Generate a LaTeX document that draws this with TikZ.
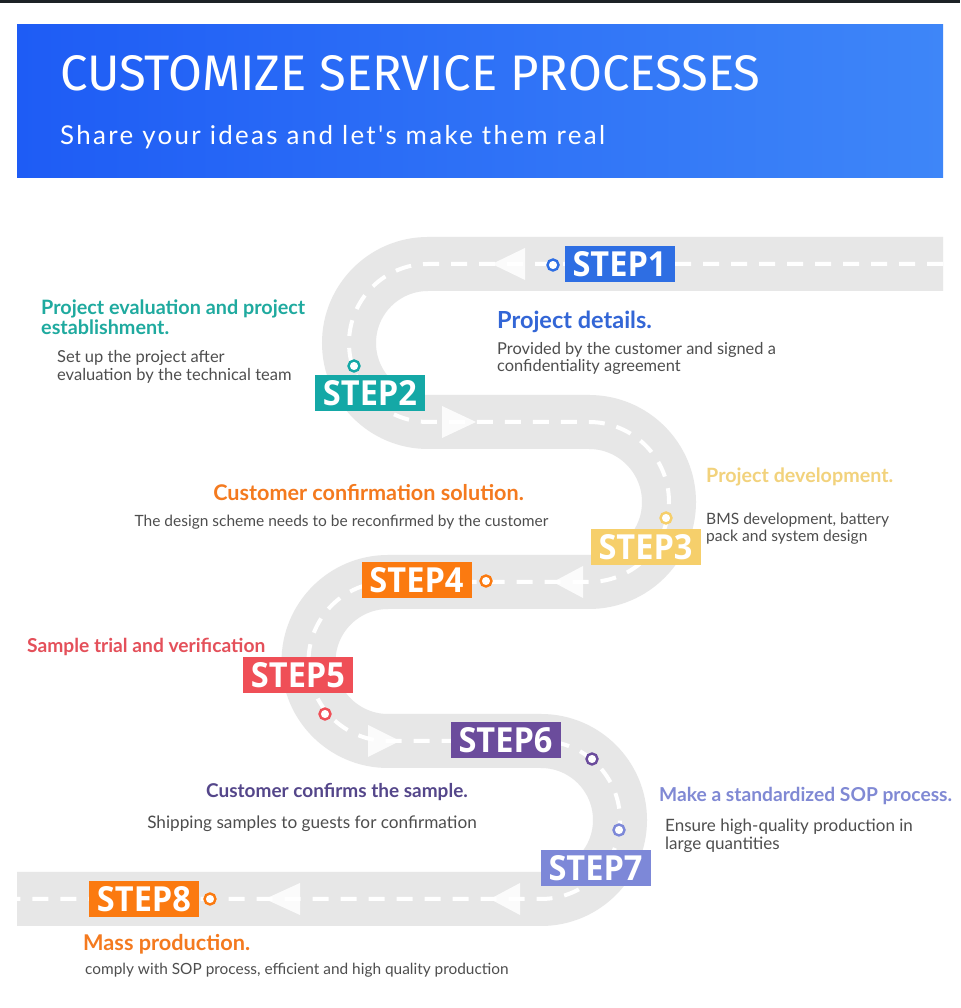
\documentclass[tikz,border=0pt]{standalone}
\usepackage{fontspec}
\setmainfont{Lato}
\newfontfamily\stepfont{Open Sans}
\newfontfamily\titlefont{Fira Sans}
\newfontfamily\subfont{Lato}[LetterSpace=9]
\definecolor{roadgray}{HTML}{E7E7E7}
\definecolor{bodygray}{HTML}{4E4E4E}
\definecolor{hdleft}{HTML}{1E5CF5}
\definecolor{hdright}{HTML}{3E86F8}
\definecolor{topbar}{HTML}{1D2226}
\definecolor{cblue}{HTML}{2E6EE3}
\definecolor{hblue}{HTML}{3366D6}
\definecolor{cteal}{HTML}{14A8A6}
\definecolor{hteal}{HTML}{1FAA9F}
\definecolor{cyellow}{HTML}{F6CF6B}
\definecolor{hyellow}{HTML}{F2D27C}
\definecolor{corange}{HTML}{FB7A10}
\definecolor{horange}{HTML}{F47A1F}
\definecolor{cred}{HTML}{EF4F57}
\definecolor{hred}{HTML}{E4505A}
\definecolor{cpurple}{HTML}{6B4C9C}
\definecolor{hpurple}{HTML}{54468A}
\definecolor{cperi}{HTML}{7D88D8}
\definecolor{hperi}{HTML}{8089D4}
\newcommand\steplabel[1]{\resizebox{94pt}{25pt}{\stepfont\bfseries #1}}
\newcommand\fs[1]{\fontsize{#1}{18}\selectfont}
\tikzset{
  road/.style={line width=54pt, draw=roadgray, line cap=butt},
  lane/.style={line width=4pt, draw=white, dash pattern=on 16pt off 12pt, line cap=butt},
  stepbox/.style={fill=#1, minimum width=110pt, minimum height=36pt, inner sep=0pt, text=white},
  ring/.style={circle, draw=#1, line width=2.4pt, fill=white, minimum size=11pt, inner sep=0pt},
  arrowtri/.style={fill=white, fill opacity=0.85, draw=none},
  head/.style={text=#1, inner sep=0pt, align=left},
  body/.style={text=bodygray, inner sep=0pt, align=left},
}
\begin{document}
\begin{tikzpicture}[x=1pt,y=1pt]
\useasboundingbox (0,0) rectangle (960,1008);
\fill[white] (0,0) rectangle (960,1008);
% top bar
\fill[topbar] (0,1005) rectangle (960,1008);
% header
\shade[left color=hdleft, right color=hdright] (17,830) rectangle (943,983);
\node[anchor=base west, inner sep=0pt, text=white] (title) at (60,917)
  {\resizebox{700pt}{35pt}{\titlefont CUSTOMIZE SERVICE PROCESSES}};
\node[anchor=base west, inner sep=0pt, text=white] (subtitle) at (60,863)
  {\resizebox{545pt}{!}{\subfont Share your ideas and let's make them real}};
% road
\draw[road] (943,744) -- (428,744) arc[start angle=90, end angle=270, radius=79]
  -- (589,586) arc[start angle=90, end angle=-90, radius=80]
  -- (388,426) arc[start angle=90, end angle=270, radius=79.5]
  -- (541,267) arc[start angle=90, end angle=-90, radius=79]
  -- (17,109);
\draw[lane] (943,744) -- (428,744) arc[start angle=90, end angle=270, radius=79]
  -- (589,586) arc[start angle=90, end angle=-90, radius=80]
  -- (388,426) arc[start angle=90, end angle=270, radius=79.5]
  -- (541,267) arc[start angle=90, end angle=-90, radius=79]
  -- (17,109);
% direction arrows
\fill[arrowtri] (492,744) -- (525,760) -- (525,728) -- cycle;
\fill[arrowtri] (476,586) -- (442,602) -- (442,570) -- cycle;
\fill[arrowtri] (553,426) -- (583,442) -- (583,410) -- cycle;
\fill[arrowtri] (400,267) -- (368,283) -- (368,251) -- cycle;
\fill[arrowtri] (490,109) -- (520,125) -- (520,93) -- cycle;
\fill[arrowtri] (265,109) -- (300,125) -- (300,93) -- cycle;
% step boxes
\node[stepbox=cblue]   (s1) at (619.5,743.5) {\steplabel{STEP1}};
\node[stepbox=cteal]   (s2) at (370,615)     {\steplabel{STEP2}};
\node[stepbox=cyellow] (s3) at (645.5,460.5) {\steplabel{STEP3}};
\node[stepbox=corange] (s4) at (416.5,427.5) {\steplabel{STEP4}};
\node[stepbox=cred]    (s5) at (298,333)     {\steplabel{STEP5}};
\node[stepbox=cpurple] (s6) at (505.5,268)   {\steplabel{STEP6}};
\node[stepbox=cperi]   (s7) at (595.5,139.5) {\steplabel{STEP7}};
\node[stepbox=corange] (s8) at (144,109)     {\steplabel{STEP8}};
% rings
\node[ring=cblue]   (d1) at (553,743) {};
\node[ring=cteal]   (d2) at (354,642) {};
\node[ring=cyellow] (d3) at (666,490) {};
\node[ring=corange] (d4) at (486,427) {};
\node[ring=cred]    (d5) at (325,294) {};
\node[ring=cpurple] (d6) at (592,249) {};
\node[ring=cperi]   (d7) at (619,178) {};
\node[ring=corange] (d8) at (210,109) {};
% texts
\node[head=hteal, anchor=west, font=\bfseries\fontsize{19.8}{20}\selectfont] (h2) at (41,690.5) {Project evaluation and project\\establishment.};
\node[body, anchor=west, font=\fontsize{16.5}{18}\selectfont] (b2) at (57,641) {Set up the project after\\evaluation by the technical team};
\node[head=hblue, anchor=west, font=\bfseries\fontsize{23.5}{24}\selectfont] (h1) at (497,686) {Project details.};
\node[body, anchor=west, font=\fontsize{16.4}{17.5}\selectfont] (b1) at (497,649.5) {Provided by the customer and signed a\\confidentiality agreement};
\node[head=hyellow, anchor=west, font=\bfseries\fontsize{19.7}{20}\selectfont] (h3) at (706,531) {Project development.};
\node[body, anchor=west, font=\fontsize{15.6}{17.5}\selectfont] (b3) at (706,479.5) {BMS development, battery\\pack and system design};
\node[head=horange, font=\bfseries\fontsize{21.6}{22}\selectfont] (h4) at (368.5,515) {Customer confirmation solution.};
\node[body, font=\fontsize{15.5}{18}\selectfont] (b4) at (341.5,486) {The design scheme needs to be reconfirmed by the customer};
\node[head=hred, anchor=west, font=\bfseries\fontsize{19.2}{20}\selectfont] (h5) at (27,361) {Sample trial and verification};
\node[head=hpurple, font=\bfseries\fontsize{19}{20}\selectfont] (h6) at (337,216) {Customer confirms the sample.};
\node[body, font=\fontsize{17.2}{18}\selectfont] (b6) at (312,184) {Shipping samples to guests for confirmation};
\node[head=hperi, anchor=west, font=\bfseries\fontsize{19.2}{20}\selectfont] (h7) at (659,212) {Make a standardized SOP process.};
\node[body, anchor=west, font=\fontsize{17}{18}\selectfont] (b7) at (665,172) {Ensure high-quality production in\\large quantities};
\node[head=horange, anchor=west, font=\bfseries\fontsize{21.7}{23}\selectfont] (h8) at (83,64) {Mass production.};
\node[body, anchor=west, font=\fontsize{15.4}{17}\selectfont] (b8) at (85,38) {comply with SOP process, efficient and high quality production};
\end{tikzpicture}
\end{document}
